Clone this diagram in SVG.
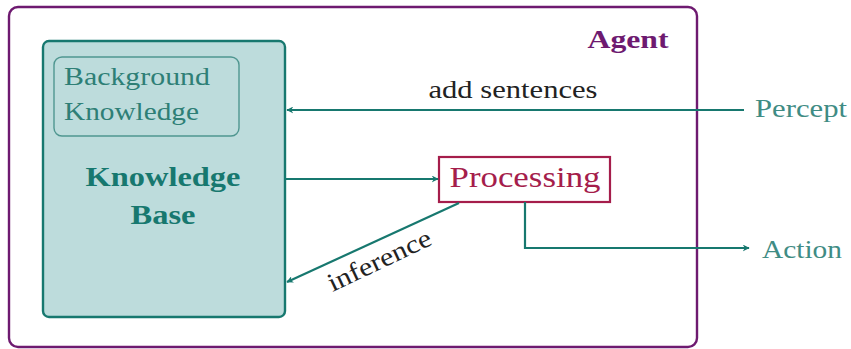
<svg xmlns="http://www.w3.org/2000/svg" width="851" height="349" viewBox="0 0 851 349" font-family="Liberation Serif, DejaVu Serif, Times New Roman, serif">
  <defs>
    <style>
      .label { font-size: 26px; fill: #222; }
      .teal-text { fill: #2e7f76; }
      .io-text { font-size: 26px; fill: #3f8c84; }
      .edge { fill: none; stroke: #17786f; stroke-width: 2.2; }
    </style>
    <marker id="arrow" viewBox="0 0 10 10" refX="9" refY="5" markerWidth="7" markerHeight="7" markerUnits="userSpaceOnUse" orient="auto">
      <path d="M0,0 L10,5 L0,10 L3,5 Z" fill="#17786f"/>
    </marker>
  </defs>

  <rect width="851" height="349" fill="#ffffff"/>

  <!-- outer agent frame -->
  <g id="agent">
    <rect x="9" y="7" width="688" height="340" rx="9" fill="none" stroke="#6e1a70" stroke-width="2.4"/>
    <text x="628" y="48" text-anchor="middle" font-family="Liberation Serif" font-size="26" font-weight="bold" fill="#6e1a70" textLength="81" lengthAdjust="spacingAndGlyphs">Agent</text>
  </g>

  <!-- knowledge base -->
  <g id="knowledge-base">
    <rect x="43" y="41" width="242" height="276" rx="6" fill="#bddcdc" stroke="#17786f" stroke-width="2.4"/>
    <text x="163" y="186" text-anchor="middle" font-family="Liberation Serif" font-size="27" font-weight="bold" fill="#17786f" textLength="155" lengthAdjust="spacingAndGlyphs">Knowledge</text>
    <text x="163" y="224" text-anchor="middle" font-family="Liberation Serif" font-size="27" font-weight="bold" fill="#17786f" textLength="65" lengthAdjust="spacingAndGlyphs">Base</text>
  </g>

  <!-- background knowledge -->
  <g id="background-knowledge">
    <rect x="54" y="57" width="185" height="79" rx="8" fill="none" stroke="#4f9690" stroke-width="1.4"/>
    <text class="teal-text" x="64" y="85" font-family="Liberation Serif" font-size="26" textLength="146" lengthAdjust="spacingAndGlyphs">Background</text>
    <text class="teal-text" x="64" y="120" font-family="Liberation Serif" font-size="26" textLength="135" lengthAdjust="spacingAndGlyphs">Knowledge</text>
  </g>

  <!-- processing -->
  <g id="processing">
    <rect x="439" y="157" width="171" height="45" fill="#ffffff" stroke="#a51d4b" stroke-width="2.2"/>
    <text x="525" y="187" text-anchor="middle" font-family="Liberation Serif" font-size="29" fill="#a51d4b" textLength="151" lengthAdjust="spacingAndGlyphs">Processing</text>
  </g>

  <!-- percept / action -->
  <g id="percept">
    <text class="io-text" x="755" y="117" font-family="Liberation Serif" textLength="92" lengthAdjust="spacingAndGlyphs">Percept</text>
  </g>
  <g id="action">
    <text class="io-text" x="762" y="258" font-family="Liberation Serif" textLength="80" lengthAdjust="spacingAndGlyphs">Action</text>
  </g>

  <!-- connectors -->
  <g id="connectors">
    <path class="edge" d="M744,110 L287,110" marker-end="url(#arrow)"/>
    <text class="label" x="513" y="98" text-anchor="middle" font-family="Liberation Serif" textLength="169" lengthAdjust="spacingAndGlyphs">add sentences</text>

    <path class="edge" d="M286,179 L438,179" marker-end="url(#arrow)"/>

    <path class="edge" d="M459,203 L287,282" marker-end="url(#arrow)"/>
    <text class="label" transform="translate(383,268) rotate(-25.5)" x="0" y="0" text-anchor="middle" font-family="Liberation Serif" textLength="112" lengthAdjust="spacingAndGlyphs">inference</text>

    <path class="edge" d="M525,202 L525,248 L749,248" marker-end="url(#arrow)"/>
  </g>
</svg>
